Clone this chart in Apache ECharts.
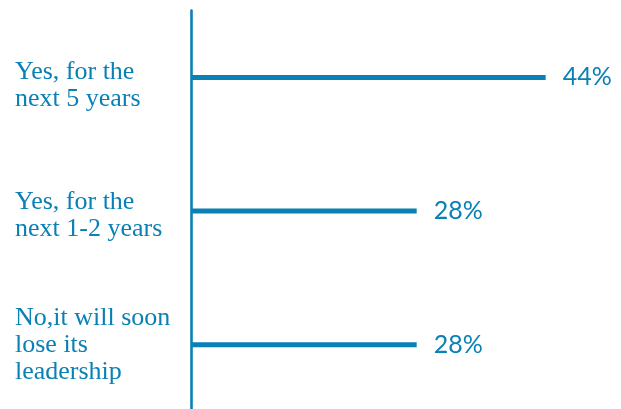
<!DOCTYPE html>
<html>
<head>
<meta charset="utf-8">
<script src="https://cdn.jsdelivr.net/npm/echarts@6/dist/echarts.min.js"></script>
<style>
  html, body { margin: 0; padding: 0; background: #ffffff; }
  #chart { width: 621px; height: 409px; }
</style>
</head>
<body>
<div id="chart"></div>
<script>
// Answers and their shares (%)
var categories = ['Yes, for the\nnext 5 years', 'Yes, for the\nnext 1-2 years', 'No,it will soon\nlose its\nleadership'];
var values = [44, 28, 28];

var BLUE = '#0a80b4';
// extra space above each line of a category label (px)
var labelPadTop = [16, 9, 0];

var baseText = {
  color: BLUE,
  fontFamily: 'Liberation Serif',
  fontSize: 26,
  lineHeight: 27
};

var rich = {};
labelPadTop.forEach(function (p, i) {
  rich['l' + i] = Object.assign({ padding: [p, 0, 0, 0] }, baseText);
});

var chart = echarts.init(document.getElementById('chart'));
chart.setOption({
  backgroundColor: '#ffffff',
  animation: false,
  grid: { left: 191, top: 10.6, width: 403, height: 401, containLabel: false, outerBoundsMode: 'none' },
  xAxis: {
    type: 'value', min: 0, max: 50,
    show: false
  },
  yAxis: {
    type: 'category',
    inverse: true,
    data: categories,
    axisLine: { show: true, lineStyle: { color: BLUE, width: 2.6 } },
    axisTick: { show: false },
    splitLine: { show: false },
    axisLabel: Object.assign({
      margin: 176,
      align: 'left',
      formatter: function (value, index) {
        return value.split('\n').map(function (line) {
          return '{l' + index + '|' + line + '}';
        }).join('\n');
      },
      rich: rich
    }, baseText)
  },
  series: [{
    type: 'bar',
    data: values,
    barWidth: 5,
    itemStyle: { color: BLUE },
    label: {
      show: true,
      position: 'right',
      distance: 17,
      formatter: '{c}%',
      color: BLUE,
      fontFamily: 'Lato',
      fontSize: 25
    }
  }]
});
</script>
</body>
</html>
